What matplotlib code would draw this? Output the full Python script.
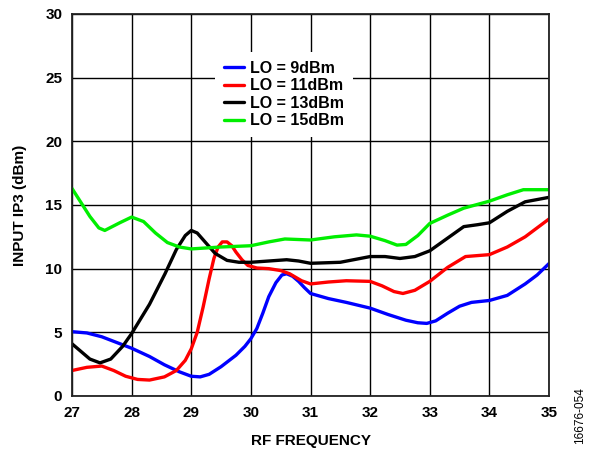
import matplotlib
matplotlib.use("Agg")
import matplotlib.pyplot as plt

plt.rcParams['font.family'] = ['Liberation Sans', 'DejaVu Sans']

# LO = 9dBm
x_9 = [27.0, 27.25, 27.5, 27.75, 28.0, 28.3, 28.55, 28.8, 29.0, 29.15, 29.3, 29.5, 29.75, 29.9, 30.0, 30.1, 30.2, 30.3, 30.42, 30.52, 30.6, 30.7, 30.8, 30.9, 31.0, 31.3, 31.6, 32.0, 32.3, 32.6, 32.8, 32.95, 33.1, 33.3, 33.5, 33.7, 34.0, 34.3, 34.6, 34.8, 35.0]
y_9 = [5.05, 4.95, 4.65, 4.2, 3.75, 3.1, 2.45, 1.9, 1.55, 1.5, 1.7, 2.3, 3.2, 3.9, 4.5, 5.3, 6.5, 7.8, 8.9, 9.5, 9.6, 9.4, 9.0, 8.5, 8.05, 7.65, 7.35, 6.9, 6.4, 5.95, 5.75, 5.7, 5.9, 6.5, 7.05, 7.35, 7.5, 7.9, 8.8, 9.5, 10.4]

# LO = 11dBm
x_11 = [27.0, 27.25, 27.5, 27.7, 27.9, 28.1, 28.3, 28.55, 28.75, 28.9, 29.0, 29.1, 29.2, 29.3, 29.38, 29.45, 29.52, 29.6, 29.68, 29.75, 29.85, 29.95, 30.1, 30.3, 30.5, 30.65, 30.85, 31.0, 31.3, 31.6, 32.0, 32.2, 32.4, 32.55, 32.75, 33.0, 33.3, 33.6, 34.0, 34.3, 34.6, 35.0]
y_11 = [2.0, 2.25, 2.35, 2.0, 1.55, 1.3, 1.25, 1.5, 2.0, 2.8, 3.7, 5.0, 7.0, 9.2, 10.8, 11.7, 12.1, 12.1, 11.8, 11.3, 10.7, 10.25, 10.05, 10.0, 9.85, 9.6, 9.05, 8.8, 8.95, 9.05, 9.0, 8.65, 8.2, 8.05, 8.3, 9.0, 10.1, 10.95, 11.1, 11.7, 12.5, 13.9]

# LO = 13dBm
x_13 = [27.0, 27.15, 27.3, 27.47, 27.65, 27.85, 28.0, 28.3, 28.56, 28.75, 28.9, 29.0, 29.1, 29.25, 29.4, 29.6, 29.8, 30.0, 30.3, 30.6, 30.8, 31.0, 31.5, 32.0, 32.25, 32.5, 32.75, 33.0, 33.3, 33.57, 33.8, 34.0, 34.3, 34.6, 35.0]
y_13 = [4.1, 3.5, 2.9, 2.6, 2.9, 3.9, 4.9, 7.2, 9.6, 11.5, 12.6, 13.0, 12.8, 12.0, 11.2, 10.65, 10.5, 10.5, 10.6, 10.7, 10.6, 10.42, 10.5, 10.95, 10.95, 10.8, 10.95, 11.4, 12.4, 13.3, 13.45, 13.6, 14.5, 15.25, 15.6]

# LO = 15dBm
x_15 = [27.0, 27.15, 27.3, 27.45, 27.55, 27.8, 28.0, 28.2, 28.4, 28.6, 28.8, 29.0, 29.5, 30.0, 30.3, 30.57, 31.0, 31.4, 31.77, 32.0, 32.25, 32.45, 32.6, 32.8, 33.0, 33.3, 33.57, 34.0, 34.3, 34.57, 35.0]
y_15 = [16.3, 15.2, 14.1, 13.2, 13.0, 13.6, 14.05, 13.7, 12.8, 12.05, 11.7, 11.55, 11.7, 11.8, 12.1, 12.33, 12.25, 12.5, 12.65, 12.55, 12.2, 11.85, 11.9, 12.6, 13.55, 14.2, 14.75, 15.3, 15.8, 16.2, 16.2]

series = [
    (x_9, y_9, "#0000ff", "LO = 9dBm"),
    (x_11, y_11, "#ff0000", "LO = 11dBm"),
    (x_13, y_13, "#000000", "LO = 13dBm"),
    (x_15, y_15, "#00ee00", "LO = 15dBm"),
]

fig = plt.figure(figsize=(5.92, 4.54), dpi=100)
ax = fig.add_axes([0.1216, 0.1278, 0.8058, 0.8414])

for xs, ys, color, label in series:
    ax.plot(xs, ys, color=color, lw=2.4, label=label,
            solid_joinstyle='round', solid_capstyle='round')

ax.set_xlim(27, 35)
ax.set_ylim(0, 30)
ax.set_xticks(range(27, 36))
ax.set_yticks(range(0, 31, 5))
ax.grid(True, color='black', lw=1.0)
ax.set_axisbelow(True)
ax.tick_params(length=0, labelsize=11, pad=7)
for lbl in ax.get_xticklabels() + ax.get_yticklabels():
    lbl.set_fontweight('bold')
for sp in ax.spines.values():
    sp.set_linewidth(1.3)
    sp.set_color('#222222')

ax.set_xlabel("RF FREQUENCY", fontsize=11, fontweight='bold', labelpad=10)
ax.set_ylabel("INPUT IP3 (dBm)", fontsize=11, fontweight='bold', labelpad=13)

leg = ax.legend(loc='center', bbox_to_anchor=(0.444, 0.789), frameon=True,
                fancybox=False, edgecolor='none', facecolor='white', framealpha=1,
                handlelength=1.3, handletextpad=0.35, labelspacing=0.16,
                borderpad=0.55, prop={'weight': 'bold', 'size': 11.5})

fig.text(0.979, 0.085, "16676-054", rotation=90, fontsize=8.5, ha='center', va='center')

fig.savefig("out.png", dpi=100)
